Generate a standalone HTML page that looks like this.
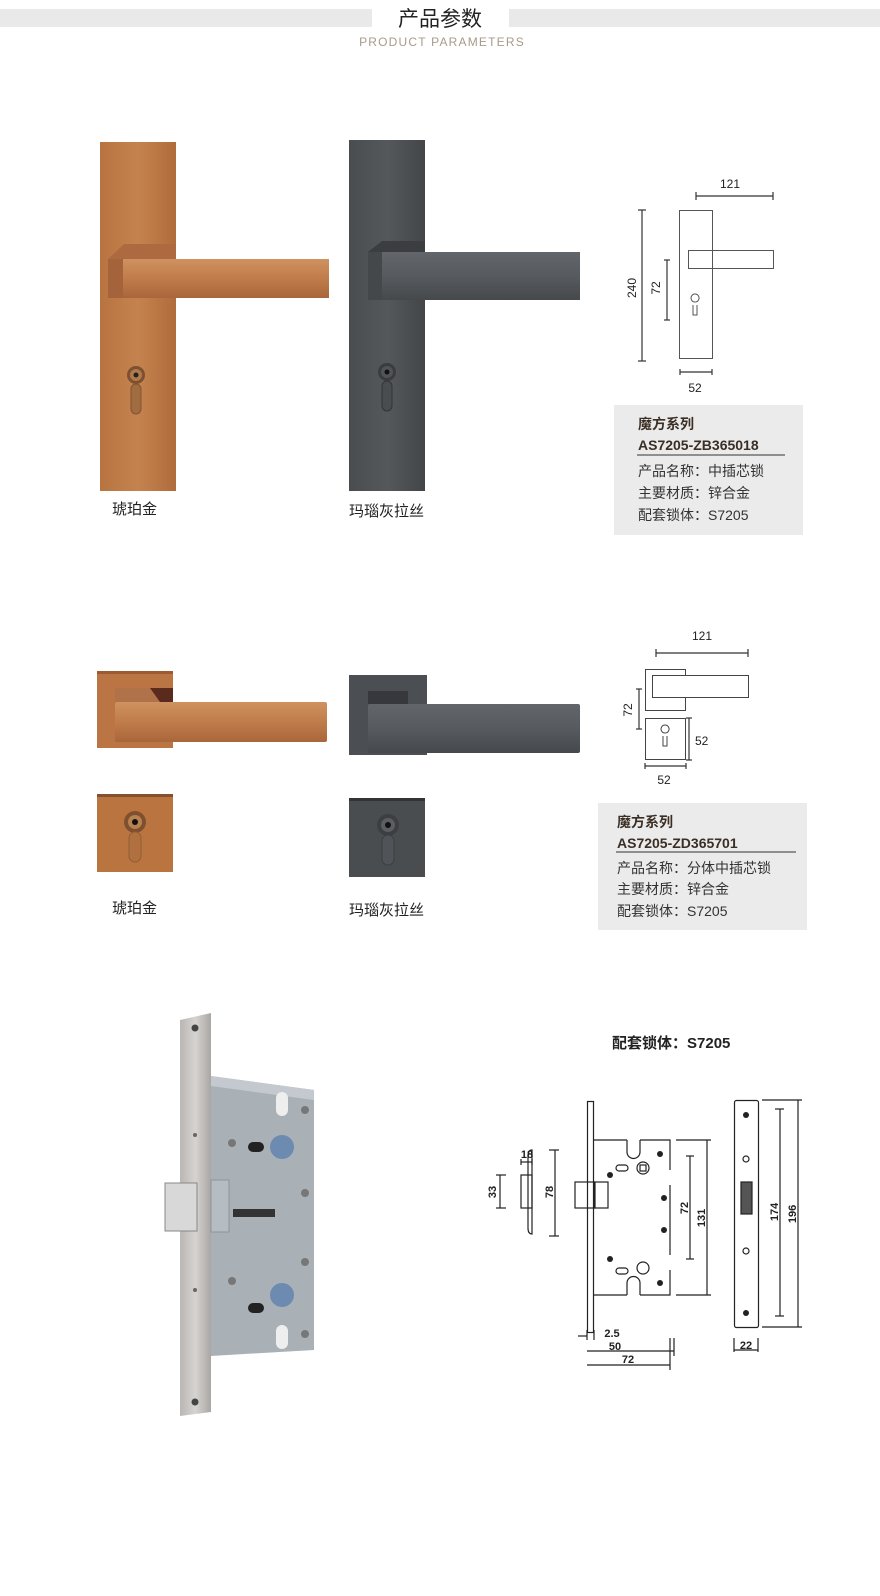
<!DOCTYPE html>
<html><head><meta charset="utf-8"><style>
html,body{margin:0;padding:0;background:#fff;}
svg{display:block}
text{font-family:"Liberation Sans","Noto Sans CJK SC",sans-serif;}
</style></head><body>
<svg width="880" height="1596" viewBox="0 0 880 1596" xmlns="http://www.w3.org/2000/svg">
<defs>
<linearGradient id="gold" x1="0" x2="1" y1="0" y2="0"><stop offset="0" stop-color="#b87440"/><stop offset=".5" stop-color="#c4834e"/><stop offset="1" stop-color="#b06c3c"/></linearGradient>
<linearGradient id="goldL" x1="0" x2="0" y1="0" y2="1"><stop offset="0" stop-color="#cf9260"/><stop offset=".5" stop-color="#c07c4a"/><stop offset="1" stop-color="#a9663a"/></linearGradient>
<linearGradient id="gray" x1="0" x2="1" y1="0" y2="0"><stop offset="0" stop-color="#4a4d50"/><stop offset=".5" stop-color="#55585b"/><stop offset="1" stop-color="#434649"/></linearGradient>
<linearGradient id="grayL" x1="0" x2="0" y1="0" y2="1"><stop offset="0" stop-color="#62666a"/><stop offset=".5" stop-color="#575a5e"/><stop offset="1" stop-color="#46494c"/></linearGradient>
<linearGradient id="steel" x1="0" x2="1" y1="0" y2="0"><stop offset="0" stop-color="#b9b6b3"/><stop offset=".5" stop-color="#d6d3d0"/><stop offset="1" stop-color="#a9a6a3"/></linearGradient>
</defs>

<rect x="0" y="9" width="372" height="18" fill="#e9e9e9"/>
<rect x="509" y="9" width="371" height="18" fill="#e9e9e9"/>
<text x="440" y="26" font-size="21" text-anchor="middle" fill="#222">产品参数</text>
<text x="442" y="46" font-size="12" text-anchor="middle" fill="#a89a8a" letter-spacing="1.2">PRODUCT PARAMETERS</text>

<rect x="100" y="142" width="76" height="349" fill="url(#gold)"/>
<rect x="124" y="244" width="52" height="17" fill="#9e5c36"/>
<polygon points="108,259 124,244 176,244 176,259" fill="#ad6a40"/>
<rect x="108" y="259" width="221" height="39" fill="url(#goldL)"/>
<rect x="108" y="259" width="15" height="39" fill="#a5633b"/>
<circle cx="136" cy="375" r="9" fill="#7e5030"/><circle cx="136" cy="375" r="6" fill="#b07a4c"/><circle cx="136" cy="375" r="2.5" fill="#222"/>
<rect x="131" y="384" width="10" height="30" rx="5" fill="#a06c40" stroke="#845232"/>
<text x="112" y="514" font-size="15" fill="#222">琥珀金</text>

<rect x="349" y="140" width="76" height="351" fill="url(#gray)"/>
<polygon points="368,252 382,241 425,241 425,252" fill="#3b3d40"/>
<rect x="368" y="252" width="212" height="48" fill="url(#grayL)"/>
<rect x="368" y="252" width="14" height="48" fill="#45484b"/>
<circle cx="387" cy="372" r="9" fill="#3a3c3f"/><circle cx="387" cy="372" r="6" fill="#505357"/><circle cx="387" cy="372" r="2.5" fill="#111"/>
<rect x="382" y="381" width="10" height="30" rx="5" fill="#4a4d50" stroke="#333"/>
<text x="349" y="516" font-size="15" fill="#222">玛瑙灰拉丝</text>

<g fill="none" stroke="#555" stroke-width="1">
<rect x="679.5" y="210.5" width="33" height="148"/>
<rect x="688.5" y="250.5" width="85" height="18"/>
<path d="M695,302 a4,4 0 1 1 0.1,0 M693,305 v10 h4 v-10"/>
</g>
<g stroke="#333" stroke-width="1.2">
<line x1="696" y1="196" x2="773" y2="196"/><line x1="696" y1="192" x2="696" y2="200"/><line x1="773" y1="192" x2="773" y2="200"/>
<line x1="642" y1="210" x2="642" y2="361"/><line x1="638" y1="210" x2="646" y2="210"/><line x1="638" y1="361" x2="646" y2="361"/>
<line x1="667" y1="260" x2="667" y2="320"/><line x1="664" y1="260" x2="670" y2="260"/><line x1="664" y1="320" x2="670" y2="320"/>
<line x1="680" y1="372" x2="712" y2="372"/><line x1="680" y1="369" x2="680" y2="375"/><line x1="712" y1="369" x2="712" y2="375"/>
</g>
<text x="730" y="188" font-size="12" text-anchor="middle" fill="#222">121</text>
<text transform="translate(636,288) rotate(-90)" font-size="12" text-anchor="middle" fill="#222">240</text>
<text transform="translate(660,288) rotate(-90)" font-size="12" text-anchor="middle" fill="#222">72</text>
<text x="695" y="392" font-size="12" text-anchor="middle" fill="#222">52</text>

<rect x="614" y="405" width="189" height="130" fill="#ebebeb"/>
<text x="638" y="429" font-size="14" font-weight="bold" fill="#3a2e25">魔方系列</text>
<text x="638" y="450" font-size="14" font-weight="bold" fill="#3a2e25">AS7205-ZB365018</text>
<line x1="637" y1="455" x2="785" y2="455" stroke="#333" stroke-width="1"/>
<text x="638" y="476" font-size="14" fill="#333">产品名称：中插芯锁</text>
<text x="638" y="498" font-size="14" fill="#333">主要材质：锌合金</text>
<text x="638" y="520" font-size="14" fill="#333">配套锁体：S7205</text>

<rect x="97" y="671" width="76" height="77" fill="#bb7444"/>
<rect x="97" y="671" width="76" height="3" fill="#9e5a32"/>
<polygon points="115,688 150,688 160,702 115,702" fill="#b07248"/>
<polygon points="150,688 173,688 173,702 160,702" fill="#5a2a1c"/>
<rect x="115" y="702" width="212" height="40" rx="2" fill="url(#goldL)"/>
<rect x="97" y="794" width="76" height="78" fill="#ba7440"/>
<rect x="97" y="794" width="76" height="3" fill="#845032"/>
<circle cx="135" cy="822" r="11" fill="#7e5030"/><circle cx="135" cy="822" r="7" fill="#b8824e"/><circle cx="135" cy="822" r="3" fill="#111"/>
<rect x="129" y="832" width="12" height="30" rx="6" fill="#b07040" stroke="#925e34"/>
<text x="112" y="913" font-size="15" fill="#222">琥珀金</text>

<rect x="349" y="675" width="78" height="80" fill="#4b4e52"/>
<rect x="368" y="691" width="40" height="13" fill="#36383b"/>
<rect x="368" y="704" width="212" height="49" rx="2" fill="url(#grayL)"/>
<rect x="349" y="798" width="76" height="79" fill="#4a4d50"/>
<rect x="349" y="798" width="76" height="3" fill="#333"/>
<circle cx="388" cy="825" r="11" fill="#3c3e41"/><circle cx="388" cy="825" r="7" fill="#5a5d61"/><circle cx="388" cy="825" r="3" fill="#111"/>
<rect x="382" y="835" width="12" height="30" rx="6" fill="#505357" stroke="#3c3e41"/>
<text x="349" y="915" font-size="15" fill="#222">玛瑙灰拉丝</text>

<g fill="none" stroke="#444" stroke-width="1">
<rect x="645.5" y="669.5" width="40" height="41"/>
<rect x="652.5" y="675.5" width="96" height="22" fill="#fff"/>
<rect x="645.5" y="718.5" width="40" height="41"/>
<path d="M665,733 a4,4 0 1 1 0.1,0 M663,736 v10 h4 v-10"/>
</g>
<g stroke="#333" stroke-width="1.2">
<line x1="656" y1="653" x2="748" y2="653"/><line x1="656" y1="649" x2="656" y2="657"/><line x1="748" y1="649" x2="748" y2="657"/>
<line x1="639" y1="689" x2="639" y2="729"/><line x1="636" y1="689" x2="642" y2="689"/><line x1="636" y1="729" x2="642" y2="729"/>
<line x1="689" y1="718" x2="689" y2="760"/><line x1="686" y1="718" x2="692" y2="718"/><line x1="686" y1="760" x2="692" y2="760"/>
<line x1="645" y1="766" x2="686" y2="766"/><line x1="645" y1="763" x2="645" y2="769"/><line x1="686" y1="763" x2="686" y2="769"/>
</g>
<text x="702" y="640" font-size="12" text-anchor="middle" fill="#222">121</text>
<text transform="translate(632,710) rotate(-90)" font-size="12" text-anchor="middle" fill="#222">72</text>
<text x="695" y="745" font-size="12" fill="#222">52</text>
<text x="664" y="784" font-size="12" text-anchor="middle" fill="#222">52</text>

<rect x="598" y="803" width="209" height="127" fill="#ebebeb"/>
<text x="617" y="827" font-size="14" font-weight="bold" fill="#3a2e25">魔方系列</text>
<text x="617" y="848" font-size="14" font-weight="bold" fill="#3a2e25">AS7205-ZD365701</text>
<line x1="616" y1="852" x2="796" y2="852" stroke="#333" stroke-width="1"/>
<text x="617" y="873" font-size="14" fill="#333">产品名称：分体中插芯锁</text>
<text x="617" y="894" font-size="14" fill="#333">主要材质：锌合金</text>
<text x="617" y="916" font-size="14" fill="#333">配套锁体：S7205</text>

<polygon points="180,1020 211,1013 211,1412 180,1416" fill="url(#steel)"/>
<polygon points="211,1076 314,1090 314,1350 211,1356" fill="#a9b1b7"/>
<polygon points="211,1076 314,1090 314,1100 211,1086" fill="#c3c9ce"/>
<rect x="165" y="1183" width="32" height="48" fill="#d8d8d8" stroke="#888"/>
<rect x="211" y="1180" width="18" height="52" fill="#b6bdc2" stroke="#8d9499"/>
<circle cx="195" cy="1028" r="3.5" fill="#444"/><circle cx="195" cy="1402" r="3.5" fill="#444"/>
<circle cx="195" cy="1135" r="2" fill="#666"/><circle cx="195" cy="1290" r="2" fill="#666"/>
<circle cx="282" cy="1147" r="12" fill="#6d8bb0"/><circle cx="282" cy="1295" r="12" fill="#6d8bb0"/>
<rect x="248" y="1142" width="16" height="10" rx="5" fill="#222"/><rect x="248" y="1303" width="16" height="10" rx="5" fill="#222"/>
<rect x="233" y="1209" width="42" height="8" fill="#333"/>
<circle cx="232" cy="1143" r="4" fill="#777"/><circle cx="232" cy="1281" r="4" fill="#777"/>
<circle cx="305" cy="1110" r="4" fill="#777"/><circle cx="305" cy="1193" r="4" fill="#777"/><circle cx="305" cy="1262" r="4" fill="#777"/><circle cx="305" cy="1334" r="4" fill="#777"/>
<rect x="276" y="1092" width="12" height="24" rx="6" fill="#eee"/><rect x="276" y="1325" width="12" height="24" rx="6" fill="#eee"/>

<text x="612" y="1048" font-size="15" font-weight="bold" fill="#222">配套锁体：S7205</text>

<g fill="none" stroke="#222" stroke-width="1.2">
<rect x="587.5" y="1101.5" width="6" height="231"/>
<path d="M594,1140 H627 M640,1140 H670 V1170 M670,1185 V1255 M670,1270 V1295 H640 M627,1295 H594"/>
<rect x="575" y="1182" width="20" height="26"/>
<rect x="594" y="1182" width="14" height="26"/>
<path d="M627,1140 v12 a6,6 0 0 0 13,0 v-12 M627,1295 v-12 a6,6 0 0 1 13,0 v12"/>
<circle cx="643" cy="1168" r="6"/><rect x="640" y="1165" width="6" height="6"/>
<circle cx="643" cy="1268" r="6"/>
<rect x="616" y="1165" width="12" height="6" rx="3"/><rect x="616" y="1268" width="12" height="6" rx="3"/>
<path d="M532,1150 q-4,0 -4,6 v72 q0,6 4,6 Z"/>
<rect x="521" y="1175" width="11" height="33"/>
<rect x="734.5" y="1100.5" width="24" height="227" rx="2"/>
<rect x="741" y="1182" width="11" height="32" fill="#555"/>
<circle cx="746" cy="1159" r="3"/><circle cx="746" cy="1251" r="3"/>
</g>
<g fill="#222">
<circle cx="660" cy="1154" r="3"/><circle cx="610" cy="1175" r="3"/><circle cx="664" cy="1198" r="3"/><circle cx="664" cy="1230" r="3"/><circle cx="610" cy="1259" r="3"/><circle cx="660" cy="1283" r="3"/>
<circle cx="746" cy="1115" r="3"/><circle cx="746" cy="1313" r="3"/>
</g>
<g stroke="#222" stroke-width="1.2">
<line x1="521" y1="1162" x2="532" y2="1162"/><line x1="521" y1="1159" x2="521" y2="1165"/><line x1="532" y1="1159" x2="532" y2="1165"/>
<line x1="500" y1="1175" x2="500" y2="1208"/><line x1="496" y1="1175" x2="506" y2="1175"/><line x1="496" y1="1208" x2="506" y2="1208"/>
<line x1="555" y1="1150" x2="555" y2="1236"/><line x1="549" y1="1150" x2="559" y2="1150"/><line x1="549" y1="1236" x2="559" y2="1236"/>
<line x1="690" y1="1156" x2="690" y2="1259"/><line x1="686" y1="1156" x2="694" y2="1156"/><line x1="686" y1="1259" x2="694" y2="1259"/>
<line x1="707" y1="1140" x2="707" y2="1295"/><line x1="676" y1="1140" x2="711" y2="1140"/><line x1="676" y1="1295" x2="711" y2="1295"/>
<line x1="780" y1="1109" x2="780" y2="1316"/><line x1="775" y1="1109" x2="784" y2="1109"/><line x1="775" y1="1316" x2="784" y2="1316"/>
<line x1="798" y1="1100" x2="798" y2="1327"/><line x1="762" y1="1100" x2="802" y2="1100"/><line x1="762" y1="1327" x2="802" y2="1327"/>
<line x1="587" y1="1330" x2="587" y2="1340"/><line x1="594" y1="1330" x2="594" y2="1340"/><line x1="578" y1="1336" x2="587" y2="1336"/>
<line x1="587" y1="1351" x2="674" y2="1351"/><line x1="674" y1="1338" x2="674" y2="1356"/>
<line x1="587" y1="1365" x2="670" y2="1365"/><line x1="670" y1="1338" x2="670" y2="1370"/>
<line x1="734" y1="1338" x2="734" y2="1352"/><line x1="758" y1="1338" x2="758" y2="1352"/><line x1="734" y1="1350" x2="758" y2="1350"/>
</g>
<g font-size="11" font-weight="bold" fill="#222">
<text x="527" y="1158" text-anchor="middle">18</text>
<text transform="translate(496,1192) rotate(-90)" text-anchor="middle">33</text>
<text transform="translate(553,1192) rotate(-90)" text-anchor="middle">78</text>
<text transform="translate(688,1208) rotate(-90)" text-anchor="middle">72</text>
<text transform="translate(705,1218) rotate(-90)" text-anchor="middle">131</text>
<text transform="translate(778,1212) rotate(-90)" text-anchor="middle">174</text>
<text transform="translate(796,1214) rotate(-90)" text-anchor="middle">196</text>
<text x="612" y="1337" text-anchor="middle">2.5</text>
<text x="615" y="1350" text-anchor="middle">50</text>
<text x="628" y="1363" text-anchor="middle">72</text>
<text x="746" y="1349" text-anchor="middle">22</text>
</g>
</svg>
</body></html>
